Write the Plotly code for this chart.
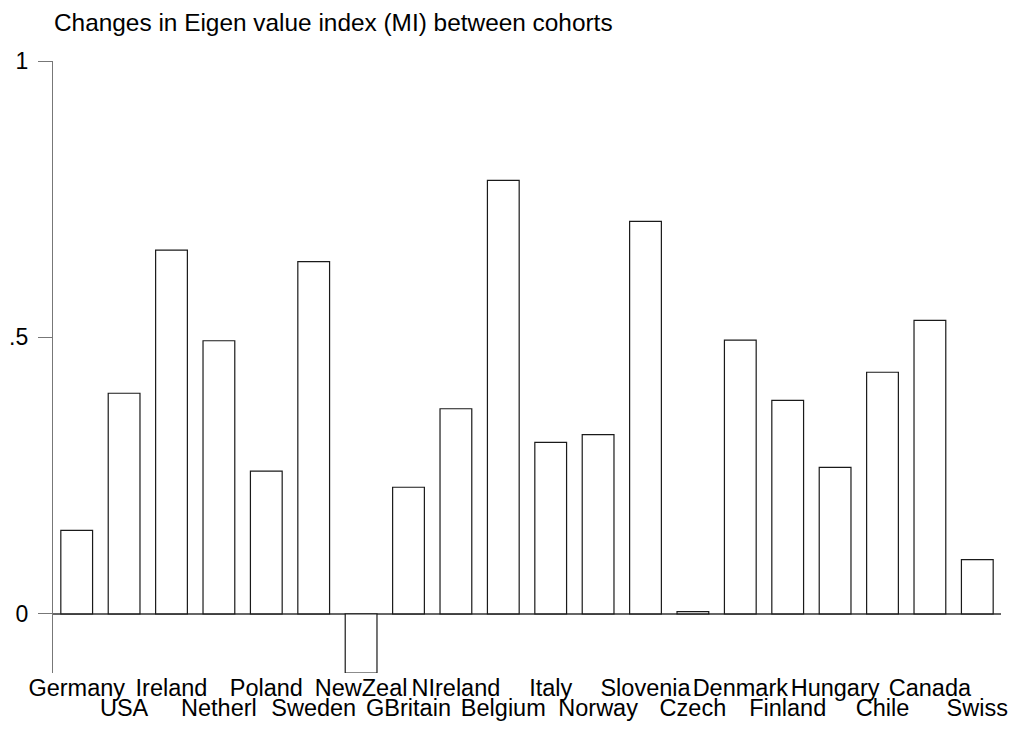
import plotly.graph_objects as go

countries = ["Germany", "USA", "Ireland", "Netherl", "Poland", "Sweden", "NewZeal",
             "GBritain", "NIreland", "Belgium", "Italy", "Norway", "Slovenia", "Czech",
             "Denmark", "Finland", "Hungary", "Chile", "Canada", "Swiss"]
mi_change = [0.151, 0.399, 0.658, 0.494, 0.258, 0.637, -0.107,
             0.229, 0.371, 0.784, 0.310, 0.324, 0.710, 0.004,
             0.495, 0.386, 0.265, 0.437, 0.531, 0.098]
y_tickvals = [0, 0.5, 1]
y_ticktext = ["0", ".5", "1"]
title_text = "Changes in Eigen value index (MI) between cohorts"

idx = list(range(len(countries)))
even_idx = idx[0::2]
odd_idx = idx[1::2]

FONT = "Liberation Sans, Arial, Helvetica, sans-serif"
# page body has an 8px default margin; the figure is sized to fit the window
W, H = 1009, 721

fig = go.Figure()
fig.add_trace(go.Bar(
    x=idx, y=mi_change,
    marker=dict(color="white", line=dict(color="#1a1a1a", width=1.2)),
    width=0.67, hoverinfo="x+y", showlegend=False,
))
# invisible helper trace so the second label row axis is drawn
fig.add_trace(go.Scatter(
    x=idx, y=mi_change, xaxis="x2", mode="markers",
    marker=dict(opacity=0), hoverinfo="skip", showlegend=False,
))

fig.update_layout(
    width=W, height=H,
    paper_bgcolor="white", plot_bgcolor="white",
    margin=dict(l=45, r=16, t=53, b=56, autoexpand=False),
    font=dict(family=FONT, size=22, color="black"),
    title=dict(text=title_text, x=46/W, xanchor="left", xref="container",
               y=1 - 23/H, yanchor="bottom", yref="container",
               font=dict(size=24.4, family=FONT, color="black"), pad=dict(t=0, b=0, l=0, r=0)),
    xaxis=dict(
        range=[-0.5, 19.5], tickmode="array", automargin=False,
        tickvals=even_idx, ticktext=[countries[i] for i in even_idx],
        tickangle=0,
        ticks="outside", ticklen=1, tickcolor="rgba(0,0,0,0)",
        ticklabelstandoff=-7,
        showline=False, showgrid=False, zeroline=False,
        tickfont=dict(size=23.5, family=FONT, color="black"),
    ),
    xaxis2=dict(
        overlaying="x", side="bottom", matches="x", automargin=False,
        range=[-0.5, 19.5], tickmode="array",
        tickvals=odd_idx, ticktext=[countries[i] for i in odd_idx],
        tickangle=0,
        ticks="outside", ticklen=21, tickcolor="rgba(0,0,0,0)",
        ticklabelstandoff=-7,
        showline=False, showgrid=False, zeroline=False,
        tickfont=dict(size=23.5, family=FONT, color="black"),
    ),
    yaxis=dict(
        range=[-0.107, 1], tickmode="array", automargin=False,
        tickvals=y_tickvals, ticktext=y_ticktext,
        ticks="outside", ticklen=14, tickwidth=1.2, tickcolor="#777777",
        ticklabelstandoff=5,
        showline=True, linecolor="#777777", linewidth=1.2,
        showgrid=False,
        zeroline=True, zerolinecolor="#666666", zerolinewidth=1.5,
        tickfont=dict(size=23, family=FONT, color="black"),
    ),
    bargap=0.33,
)

fig.write_html("out.html")
